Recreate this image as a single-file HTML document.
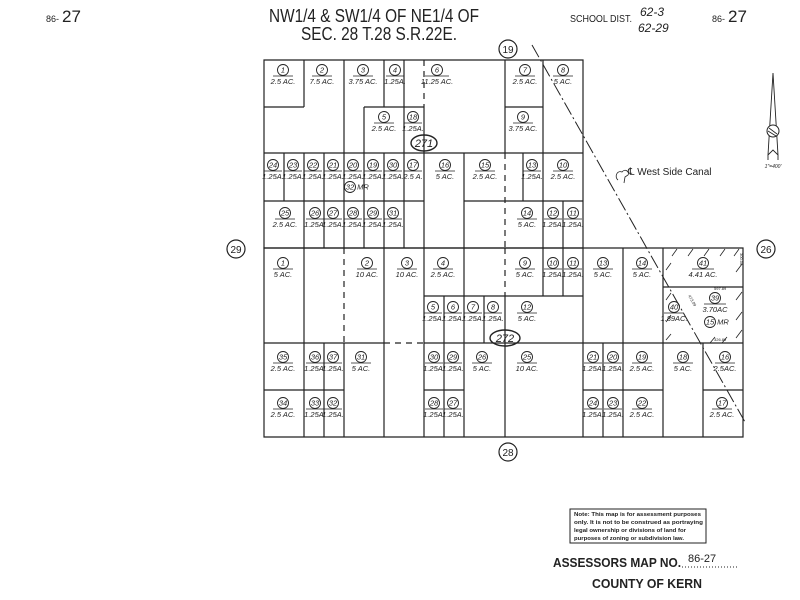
<!DOCTYPE html>
<html><head><meta charset="utf-8"><style>
html,body{margin:0;padding:0;background:#fff;}
svg{display:block;}
.l{stroke:#222;stroke-width:1.2;fill:none;}
.d{stroke:#222;stroke-width:1.2;fill:none;stroke-dasharray:6,5;}
.t text{font-family:"Liberation Sans",sans-serif;font-style:italic;font-size:7.5px;text-anchor:middle;fill:#222;}
.t circle{fill:none;stroke:#222;stroke-width:0.9;}
.t line{stroke:#222;stroke-width:0.8;}
.h{font-family:"Liberation Sans",sans-serif;fill:#222;}
</style></head><body>
<svg width="800" height="600" viewBox="0 0 800 600" xmlns="http://www.w3.org/2000/svg">
<!-- header -->
<text class="h" x="46" y="22" font-size="9">86-</text><text class="h" x="62" y="22" font-size="17">27</text>
<text class="h" x="712" y="22" font-size="9">86-</text><text class="h" x="728" y="22" font-size="17">27</text>
<text class="h" x="374" y="22" font-size="18" text-anchor="middle" textLength="210" lengthAdjust="spacingAndGlyphs">NW1/4 &amp; SW1/4 OF NE1/4 OF</text>
<text class="h" x="379" y="40" font-size="18" text-anchor="middle" textLength="156" lengthAdjust="spacingAndGlyphs">SEC. 28 T.28 S.R.22E.</text>
<text class="h" x="570" y="22" font-size="10" textLength="62" lengthAdjust="spacingAndGlyphs">SCHOOL DIST.</text>
<text class="h" x="640" y="16" font-size="12" font-style="italic">62-3</text>
<text class="h" x="638" y="32" font-size="12" font-style="italic">62-29</text>

<!-- boundary circles -->
<g class="t">
<circle cx="508" cy="49" r="9" style="stroke-width:1.2"/><text x="508" y="53" style="font-size:10px;font-style:normal">19</text>
<circle cx="236" cy="249" r="9" style="stroke-width:1.2"/><text x="236" y="253" style="font-size:10px;font-style:normal">29</text>
<circle cx="766" cy="249" r="9" style="stroke-width:1.2"/><text x="766" y="253" style="font-size:10px;font-style:normal">26</text>
<circle cx="508" cy="452" r="9" style="stroke-width:1.2"/><text x="508" y="456" style="font-size:10px;font-style:normal">28</text>
<ellipse cx="424" cy="143" rx="13" ry="8" fill="none" stroke="#222" stroke-width="1.4"/><text x="424" y="147" style="font-size:11px">271</text>
<ellipse cx="505" cy="338" rx="15" ry="8" fill="none" stroke="#222" stroke-width="1.4"/><text x="505" y="342" style="font-size:11px">272</text>
</g>

<!-- top block lines -->
<path class="l" d="M264 60H583V248H264Z M264 153H583 M264 201H424 M464 201H583 M264 107H304 M364 107H424 M505 107H543
M304 60V107 M304 153V248 M344 60V248 M384 60V107 M384 153V248 M364 107V248 M404 60V248 M424 107V248
M505 60V153 M543 60V248 M563 201V248 M284 153V201 M324 153V248 M464 153V248 M523 153V201"/>
<path class="d" d="M424 60V107 M505 153V248"/>
<!-- bottom block lines -->
<path class="l" d="M264 248H743V437H264Z M264 343H384 M424 343H743 M264 390H344 M424 390H464 M583 390H663 M703 390H743
M424 296H583 M304 248V437 M384 248V437 M424 248V437 M464 248V437 M583 248V437 M623 248V437 M663 248V437
M543 248V296 M563 248V296 M444 296V437 M484 296V343 M505 296V437 M324 343V437 M344 343V437 M603 343V437 M703 343V437 M663 287H743"/>
<path class="d" d="M344 248V343 M384 343H424 M505 248V296"/>
<!-- diagonal canal line -->
<path d="M532 45L745 422" stroke="#222" stroke-width="1" stroke-dasharray="14,3,2,3" fill="none"/>
<!-- hatches -->
<path stroke="#222" stroke-width="0.8" d="M672 256l5-7 M688 256l5-7 M704 256l5-7 M720 256l5-7 M734 256l5-7 M736 272l6-8 M736 300l6-8 M736 320l6-8 M736 338l6-8 M666 270l5-7 M666 300l5-7 M666 322l5-7 M666 340l5-6 M722 343l5-6 M710 343l5-6"/>
<text x="714" y="290" font-size="4" font-family="Liberation Sans" fill="#222">597.89</text>
<text x="714" y="341" font-size="4" font-family="Liberation Sans" fill="#222">326.89</text>
<text x="0" y="0" font-size="4" font-family="Liberation Sans" fill="#222" transform="translate(688,296) rotate(60)">473.09</text>
<text x="0" y="0" font-size="4" font-family="Liberation Sans" fill="#222" transform="translate(740,253) rotate(90)">300.00</text>

<!-- canal label -->
<path d="M618 180c-4-3-1-10 4-8c3-4 8 0 6 3l-3 2l-1 6" stroke="#222" stroke-width="0.8" fill="none"/>
<text class="h" x="628" y="175" font-size="10">℄ West Side Canal</text>
<!-- north arrow -->
<path d="M773 73L768 155L773 150L778 155Z M768 155V160 M778 155V160" stroke="#222" stroke-width="0.9" fill="none"/>
<circle cx="773" cy="131" r="6" fill="#fff" stroke="#222" stroke-width="1"/>
<path d="M769 128l8 6 M768 131l8 5" stroke="#222" stroke-width="0.8"/>
<text class="h" x="773" y="168" font-size="5" font-style="italic" text-anchor="middle">1"=400'</text>

<!-- lot labels -->
<g class="t">
<g transform="translate(283,70)"><circle r="5.5"/><text y="2.6">1</text><line x1="-10" x2="10" y1="6" y2="6"/><text y="14">2.5 AC.</text></g>
<g transform="translate(322,70)"><circle r="5.5"/><text y="2.6">2</text><line x1="-10" x2="10" y1="6" y2="6"/><text y="14">7.5 AC.</text></g>
<g transform="translate(363,70)"><circle r="5.5"/><text y="2.6">3</text><line x1="-10" x2="10" y1="6" y2="6"/><text y="14">3.75 AC.</text></g>
<g transform="translate(395,70)"><circle r="5.5"/><text y="2.6">4</text><line x1="-9" x2="9" y1="6" y2="6"/><text y="14">1.25A.</text></g>
<g transform="translate(437,70)"><circle r="5.5"/><text y="2.6">6</text><line x1="-12" x2="12" y1="6" y2="6"/><text y="14">11.25 AC.</text></g>
<g transform="translate(525,70)"><circle r="5.5"/><text y="2.6">7</text><line x1="-10" x2="10" y1="6" y2="6"/><text y="14">2.5 AC.</text></g>
<g transform="translate(563,70)"><circle r="5.5"/><text y="2.6">8</text><line x1="-10" x2="10" y1="6" y2="6"/><text y="14">5 AC.</text></g>
<g transform="translate(384,117)"><circle r="5.5"/><text y="2.6">5</text><line x1="-10" x2="10" y1="6" y2="6"/><text y="14">2.5 AC.</text></g>
<g transform="translate(413,117)"><circle r="5.5"/><text y="2.6">18</text><line x1="-9" x2="9" y1="6" y2="6"/><text y="14">1.25A.</text></g>
<g transform="translate(523,117)"><circle r="5.5"/><text y="2.6">9</text><line x1="-10" x2="10" y1="6" y2="6"/><text y="14">3.75 AC.</text></g>

<g transform="translate(273,165)"><circle r="5.5"/><text y="2.6">24</text><line x1="-9" x2="9" y1="6" y2="6"/><text y="14">1.25A.</text></g>
<g transform="translate(293,165)"><circle r="5.5"/><text y="2.6">23</text><line x1="-9" x2="9" y1="6" y2="6"/><text y="14">1.25A.</text></g>
<g transform="translate(313,165)"><circle r="5.5"/><text y="2.6">22</text><line x1="-9" x2="9" y1="6" y2="6"/><text y="14">1.25A.</text></g>
<g transform="translate(333,165)"><circle r="5.5"/><text y="2.6">21</text><line x1="-9" x2="9" y1="6" y2="6"/><text y="14">1.25A.</text></g>
<g transform="translate(353,165)"><circle r="5.5"/><text y="2.6">20</text><line x1="-9" x2="9" y1="6" y2="6"/><text y="14">1.25A.</text></g>
<g transform="translate(373,165)"><circle r="5.5"/><text y="2.6">19</text><line x1="-9" x2="9" y1="6" y2="6"/><text y="14">1.25A.</text></g>
<g transform="translate(393,165)"><circle r="5.5"/><text y="2.6">30</text><line x1="-9" x2="9" y1="6" y2="6"/><text y="14">1.25A.</text></g>
<g transform="translate(413,165)"><circle r="5.5"/><text y="2.6">17</text><line x1="-9" x2="9" y1="6" y2="6"/><text y="14">2.5 A.</text></g>
<g transform="translate(445,165)"><circle r="5.5"/><text y="2.6">16</text><line x1="-10" x2="10" y1="6" y2="6"/><text y="14">5 AC.</text></g>
<g transform="translate(485,165)"><circle r="5.5"/><text y="2.6">15</text><line x1="-10" x2="10" y1="6" y2="6"/><text y="14">2.5 AC.</text></g>
<g transform="translate(532,165)"><circle r="5.5"/><text y="2.6">13</text><line x1="-9" x2="9" y1="6" y2="6"/><text y="14">1.25A.</text></g>
<g transform="translate(563,165)"><circle r="5.5"/><text y="2.6">10</text><line x1="-10" x2="10" y1="6" y2="6"/><text y="14">2.5 AC.</text></g>
<g transform="translate(350,187)"><circle r="5.5"/><text y="2.6">32</text><text x="13" y="2.6">MR</text></g>

<g transform="translate(285,213)"><circle r="5.5"/><text y="2.6">25</text><line x1="-10" x2="10" y1="6" y2="6"/><text y="14">2.5 AC.</text></g>
<g transform="translate(315,213)"><circle r="5.5"/><text y="2.6">26</text><line x1="-9" x2="9" y1="6" y2="6"/><text y="14">1.25A.</text></g>
<g transform="translate(333,213)"><circle r="5.5"/><text y="2.6">27</text><line x1="-9" x2="9" y1="6" y2="6"/><text y="14">1.25A.</text></g>
<g transform="translate(353,213)"><circle r="5.5"/><text y="2.6">28</text><line x1="-9" x2="9" y1="6" y2="6"/><text y="14">1.25A.</text></g>
<g transform="translate(373,213)"><circle r="5.5"/><text y="2.6">29</text><line x1="-9" x2="9" y1="6" y2="6"/><text y="14">1.25A.</text></g>
<g transform="translate(393,213)"><circle r="5.5"/><text y="2.6">31</text><line x1="-9" x2="9" y1="6" y2="6"/><text y="14">1.25A.</text></g>
<g transform="translate(527,213)"><circle r="5.5"/><text y="2.6">14</text><line x1="-10" x2="10" y1="6" y2="6"/><text y="14">5 AC.</text></g>
<g transform="translate(553,213)"><circle r="5.5"/><text y="2.6">12</text><line x1="-9" x2="9" y1="6" y2="6"/><text y="14">1.25A.</text></g>
<g transform="translate(573,213)"><circle r="5.5"/><text y="2.6">11</text><line x1="-9" x2="9" y1="6" y2="6"/><text y="14">1.25A.</text></g>

<g transform="translate(283,263)"><circle r="5.5"/><text y="2.6">1</text><line x1="-10" x2="10" y1="6" y2="6"/><text y="14">5 AC.</text></g>
<g transform="translate(367,263)"><circle r="5.5"/><text y="2.6">2</text><line x1="-10" x2="10" y1="6" y2="6"/><text y="14">10 AC.</text></g>
<g transform="translate(407,263)"><circle r="5.5"/><text y="2.6">3</text><line x1="-10" x2="10" y1="6" y2="6"/><text y="14">10 AC.</text></g>
<g transform="translate(443,263)"><circle r="5.5"/><text y="2.6">4</text><line x1="-10" x2="10" y1="6" y2="6"/><text y="14">2.5 AC.</text></g>
<g transform="translate(525,263)"><circle r="5.5"/><text y="2.6">9</text><line x1="-10" x2="10" y1="6" y2="6"/><text y="14">5 AC.</text></g>
<g transform="translate(553,263)"><circle r="5.5"/><text y="2.6">10</text><line x1="-9" x2="9" y1="6" y2="6"/><text y="14">1.25A.</text></g>
<g transform="translate(573,263)"><circle r="5.5"/><text y="2.6">11</text><line x1="-9" x2="9" y1="6" y2="6"/><text y="14">1.25A.</text></g>
<g transform="translate(603,263)"><circle r="5.5"/><text y="2.6">13</text><line x1="-10" x2="10" y1="6" y2="6"/><text y="14">5 AC.</text></g>
<g transform="translate(642,263)"><circle r="5.5"/><text y="2.6">14</text><line x1="-10" x2="10" y1="6" y2="6"/><text y="14">5 AC.</text></g>
<g transform="translate(703,263)"><circle r="5.5"/><text y="2.6">41</text><line x1="-11" x2="11" y1="6" y2="6"/><text y="14">4.41 AC.</text></g>

<g transform="translate(433,307)"><circle r="5.5"/><text y="2.6">5</text><line x1="-9" x2="9" y1="6" y2="6"/><text y="14">1.25A.</text></g>
<g transform="translate(453,307)"><circle r="5.5"/><text y="2.6">6</text><line x1="-9" x2="9" y1="6" y2="6"/><text y="14">1.25A.</text></g>
<g transform="translate(473,307)"><circle r="5.5"/><text y="2.6">7</text><line x1="-9" x2="9" y1="6" y2="6"/><text y="14">1.25A.</text></g>
<g transform="translate(493,307)"><circle r="5.5"/><text y="2.6">8</text><line x1="-9" x2="9" y1="6" y2="6"/><text y="14">1.25A.</text></g>
<g transform="translate(527,307)"><circle r="5.5"/><text y="2.6">12</text><line x1="-10" x2="10" y1="6" y2="6"/><text y="14">5 AC.</text></g>
<g transform="translate(674,307)"><circle r="5.5"/><text y="2.6">40</text><line x1="-10" x2="10" y1="6" y2="6"/><text y="14">1.89AC.</text></g>
<g transform="translate(715,298)"><circle r="5.5"/><text y="2.6">39</text><line x1="-11" x2="11" y1="6" y2="6"/><text y="14">3.70AC</text></g>
<g transform="translate(710,322)"><circle r="5.5"/><text y="2.6">15</text><text x="13" y="2.6">MR</text></g>

<g transform="translate(283,357)"><circle r="5.5"/><text y="2.6">35</text><line x1="-10" x2="10" y1="6" y2="6"/><text y="14">2.5 AC.</text></g>
<g transform="translate(315,357)"><circle r="5.5"/><text y="2.6">36</text><line x1="-9" x2="9" y1="6" y2="6"/><text y="14">1.25A.</text></g>
<g transform="translate(333,357)"><circle r="5.5"/><text y="2.6">37</text><line x1="-9" x2="9" y1="6" y2="6"/><text y="14">1.25A.</text></g>
<g transform="translate(361,357)"><circle r="5.5"/><text y="2.6">31</text><line x1="-10" x2="10" y1="6" y2="6"/><text y="14">5 AC.</text></g>
<g transform="translate(434,357)"><circle r="5.5"/><text y="2.6">30</text><line x1="-9" x2="9" y1="6" y2="6"/><text y="14">1.25A.</text></g>
<g transform="translate(453,357)"><circle r="5.5"/><text y="2.6">29</text><line x1="-9" x2="9" y1="6" y2="6"/><text y="14">1.25A.</text></g>
<g transform="translate(482,357)"><circle r="5.5"/><text y="2.6">26</text><line x1="-10" x2="10" y1="6" y2="6"/><text y="14">5 AC.</text></g>
<g transform="translate(527,357)"><circle r="5.5"/><text y="2.6">25</text><line x1="-10" x2="10" y1="6" y2="6"/><text y="14">10 AC.</text></g>
<g transform="translate(593,357)"><circle r="5.5"/><text y="2.6">21</text><line x1="-9" x2="9" y1="6" y2="6"/><text y="14">1.25A.</text></g>
<g transform="translate(613,357)"><circle r="5.5"/><text y="2.6">20</text><line x1="-9" x2="9" y1="6" y2="6"/><text y="14">1.25A.</text></g>
<g transform="translate(642,357)"><circle r="5.5"/><text y="2.6">19</text><line x1="-10" x2="10" y1="6" y2="6"/><text y="14">2.5 AC.</text></g>
<g transform="translate(683,357)"><circle r="5.5"/><text y="2.6">18</text><line x1="-10" x2="10" y1="6" y2="6"/><text y="14">5 AC.</text></g>
<g transform="translate(725,357)"><circle r="5.5"/><text y="2.6">16</text><line x1="-10" x2="10" y1="6" y2="6"/><text y="14">2.5AC.</text></g>

<g transform="translate(283,403)"><circle r="5.5"/><text y="2.6">34</text><line x1="-10" x2="10" y1="6" y2="6"/><text y="14">2.5 AC.</text></g>
<g transform="translate(315,403)"><circle r="5.5"/><text y="2.6">33</text><line x1="-9" x2="9" y1="6" y2="6"/><text y="14">1.25A.</text></g>
<g transform="translate(333,403)"><circle r="5.5"/><text y="2.6">32</text><line x1="-9" x2="9" y1="6" y2="6"/><text y="14">1.25A.</text></g>
<g transform="translate(434,403)"><circle r="5.5"/><text y="2.6">28</text><line x1="-9" x2="9" y1="6" y2="6"/><text y="14">1.25A.</text></g>
<g transform="translate(453,403)"><circle r="5.5"/><text y="2.6">27</text><line x1="-9" x2="9" y1="6" y2="6"/><text y="14">1.25A.</text></g>
<g transform="translate(593,403)"><circle r="5.5"/><text y="2.6">24</text><line x1="-9" x2="9" y1="6" y2="6"/><text y="14">1.25A.</text></g>
<g transform="translate(613,403)"><circle r="5.5"/><text y="2.6">23</text><line x1="-9" x2="9" y1="6" y2="6"/><text y="14">1.25A.</text></g>
<g transform="translate(642,403)"><circle r="5.5"/><text y="2.6">22</text><line x1="-10" x2="10" y1="6" y2="6"/><text y="14">2.5 AC.</text></g>
<g transform="translate(722,403)"><circle r="5.5"/><text y="2.6">17</text><line x1="-10" x2="10" y1="6" y2="6"/><text y="14">2.5 AC.</text></g>
</g>

<!-- note box -->
<rect x="570" y="509" width="136" height="34" fill="none" stroke="#222" stroke-width="1"/>
<g class="h" font-size="5.6" font-weight="bold">
<text x="574" y="516" textLength="127" lengthAdjust="spacingAndGlyphs">Note: This map is for assessment purposes</text>
<text x="574" y="524" textLength="129" lengthAdjust="spacingAndGlyphs">only. It is not to be construed as portraying</text>
<text x="574" y="532" textLength="112" lengthAdjust="spacingAndGlyphs">legal ownership or divisions of land for</text>
<text x="574" y="540" textLength="110" lengthAdjust="spacingAndGlyphs">purposes of zoning or subdivision law.</text>
</g>
<text class="h" x="553" y="567" font-size="13" font-weight="bold" textLength="128" lengthAdjust="spacingAndGlyphs">ASSESSORS MAP NO.</text>
<text class="h" x="688" y="562" font-size="11">86-27</text>
<path d="M682 567H738" stroke="#222" stroke-width="1" stroke-dasharray="1,2"/>
<text class="h" x="592" y="588" font-size="13" font-weight="bold" textLength="110" lengthAdjust="spacingAndGlyphs">COUNTY OF KERN</text>
</svg>
</body></html>
